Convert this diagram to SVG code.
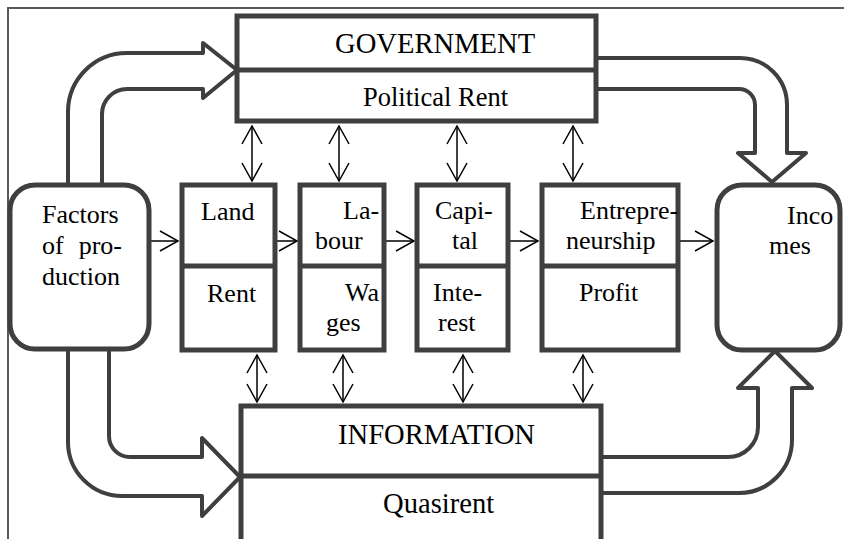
<svg xmlns="http://www.w3.org/2000/svg" width="844" height="539" viewBox="0 0 844 539">
<style>
.box{fill:#fff;stroke:#3f3f3f;stroke-width:5}
.div{stroke:#3f3f3f;stroke-width:5}
.big{fill:#fff;stroke:#3f3f3f;stroke-width:4;stroke-linejoin:round}
.thin{stroke:#000;stroke-width:1.5;fill:none}
.t{font-family:"Liberation Serif","Times New Roman",serif;font-size:26px;fill:#000}
.h{font-family:"Liberation Serif","Times New Roman",serif;font-size:28.6px;fill:#000}
</style>
<defs>
<marker id="ah" markerUnits="userSpaceOnUse" viewBox="-1 -1 21 22" markerWidth="21" markerHeight="22" refX="18" refY="10" orient="auto-start-reverse">
<path d="M0,0 L18,10 L0,20" fill="none" stroke="#000" stroke-width="1.5"/>
</marker>
</defs>
<rect width="844" height="539" fill="#fff"/>
<path d="M8,539 V8 H844" fill="none" stroke="#5a5a5a" stroke-width="2"/>
<g id="connectors">
<path class="big" d="M68,185 V112 A59,59 0 0 1 127,53 H203 V43 L237,70 L203,98 V89 H127 A25,25 0 0 0 102,114 V185"/>
<path class="big" d="M596,58 H740 A47,47 0 0 1 787,105 V153 H806 L772,182 L738,153 H755 V105 A16,16 0 0 0 739,89 H596"/>
<path class="big" d="M68,349 V442 A54,54 0 0 0 122,496 H202 V516 L240,477 L202,438 V457 H130 A21,21 0 0 1 109,436 V349"/>
<path class="big" d="M601,457 H728 A30,30 0 0 0 758,427 V388 H738 L775,351 L812,388 H792 V440 A53,53 0 0 1 739,493 H601"/>
<g class="thin" marker-end="url(#ah)">
<line x1="149" y1="241" x2="178" y2="241"/>
<line x1="277" y1="241" x2="297" y2="241"/>
<line x1="386" y1="241" x2="414" y2="241"/>
<line x1="510" y1="241" x2="538" y2="241"/>
<line x1="680" y1="241" x2="713" y2="241"/>
</g>
<g class="thin" marker-start="url(#ah)" marker-end="url(#ah)">
<line x1="252" y1="126" x2="252" y2="181"/>
<line x1="339" y1="126" x2="339" y2="181"/>
<line x1="457" y1="126" x2="457" y2="181"/>
<line x1="573" y1="126" x2="573" y2="181"/>
<line x1="257" y1="355" x2="257" y2="402"/>
<line x1="343" y1="355" x2="343" y2="402"/>
<line x1="463" y1="355" x2="463" y2="402"/>
<line x1="583" y1="355" x2="583" y2="402"/>
</g>
</g>
<g id="government">
<rect class="box" x="237" y="16" width="359" height="105"/>
<line class="div" x1="237" y1="70" x2="596" y2="70"/>
<text class="h" x="335" y="53">GOVERNMENT</text>
<text class="t" x="363" y="106" style="font-size:26.5px">Political Rent</text>
</g>
<g id="factors">
<rect class="box" x="10" y="185" width="139" height="164" rx="25"/>
<text class="t" x="42" y="223">Factors</text>
<text class="t" x="42" y="254" word-spacing="8.5">of pro-</text>
<text class="t" x="42" y="285">duction</text>
</g>
<g id="land">
<rect class="box" x="182" y="185" width="93" height="165"/>
<line class="div" x1="182" y1="266" x2="275" y2="266"/>
<text class="t" x="201" y="220">Land</text>
<text class="t" x="207" y="302">Rent</text>
</g>
<g id="labour">
<rect class="box" x="300" y="185" width="84" height="165"/>
<line class="div" x1="300" y1="266" x2="384" y2="266"/>
<text class="t" x="343" y="219">La-</text>
<text class="t" x="315" y="249">bour</text>
<text class="t" x="345" y="301">Wa</text>
<text class="t" x="326" y="331">ges</text>
</g>
<g id="capital">
<rect class="box" x="417" y="185" width="91" height="165"/>
<line class="div" x1="417" y1="266" x2="508" y2="266"/>
<text class="t" x="435" y="219">Capi-</text>
<text class="t" x="452" y="249">tal</text>
<text class="t" x="433" y="301">Inte-</text>
<text class="t" x="438" y="331">rest</text>
</g>
<g id="entrepreneurship">
<rect class="box" x="542" y="185" width="136" height="165"/>
<line class="div" x1="542" y1="266" x2="678" y2="266"/>
<text class="t" x="580" y="219">Entrepre-</text>
<text class="t" x="566" y="249">neurship</text>
<text class="t" x="579" y="301">Profit</text>
</g>
<g id="incomes">
<rect class="box" x="717" y="185" width="123" height="165" rx="25"/>
<text class="t" x="787" y="224">Inco</text>
<text class="t" x="769" y="254">mes</text>
</g>
<g id="information">
<path class="box" d="M241,545 V406 H601 V545"/>
<line class="div" x1="241" y1="476" x2="601" y2="476"/>
<text class="h" x="338" y="444">INFORMATION</text>
<text class="h" x="383" y="513">Quasirent</text>
</g>
</svg>
